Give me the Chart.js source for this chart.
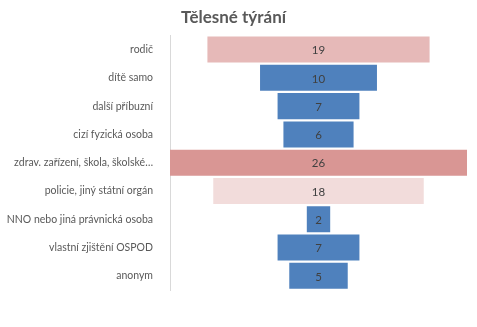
<!DOCTYPE html>
<html>
<head>
<meta charset="utf-8">
<script src="https://cdn.jsdelivr.net/npm/chart.js@4"></script>
<style>
  html, body { margin: 0; padding: 0; background: #fff; }
  #wrap { width: 477px; height: 327px; }
</style>
</head>
<body>
<div id="wrap"><canvas id="funnel"></canvas></div>
<script>
// data
const categories = ['rodič', 'dítě samo', 'další příbuzní', 'cizí fyzická osoba',
    'zdrav. zařízení, škola, školské…', 'policie, jiný státní orgán',
    'NNO nebo jiná právnická osoba', 'vlastní zjištění OSPOD', 'anonym'];
const values = [19, 10, 7, 6, 26, 18, 2, 7, 5];
const barColors = ['#E6B9B8', '#4F81BD', '#4F81BD', '#4F81BD', '#D99694',
    '#F2DCDB', '#4F81BD', '#4F81BD', '#4F81BD'];

// funnel: each bar is centred on zero
const ranges = values.map(v => [-v / 2, v / 2]);

const valueLabels = {
    id: 'valueLabels',
    afterDatasetsDraw(chart) {
        const ctx = chart.ctx;
        const meta = chart.getDatasetMeta(0);
        ctx.save();
        ctx.font = '11.5px Lato';
        ctx.fillStyle = '#404040';
        ctx.textAlign = 'center';
        ctx.textBaseline = 'middle';
        meta.data.forEach((bar, i) => {
            const x = (bar.base + bar.x) / 2;
            ctx.fillText(values[i], x, bar.y + 1);
        });
        ctx.restore();
    }
};

new Chart(document.getElementById('funnel'), {
    type: 'bar',
    data: {
        labels: categories,
        datasets: [{
            data: ranges,
            backgroundColor: barColors,
            categoryPercentage: 1,
            barPercentage: 0.92
        }]
    },
    options: {
        indexAxis: 'y',
        responsive: true,
        maintainAspectRatio: false,
        animation: false,
        layout: { padding: { left: 0, right: 10, top: 0, bottom: 37 } },
        plugins: {
            legend: { display: false },
            tooltip: { enabled: false },
            title: {
                display: true,
                text: 'Tělesné týrání',
                color: '#595959',
                font: { family: 'Lato', size: 17, weight: 'bold' },
                padding: { top: 7, bottom: 8 }
            }
        },
        scales: {
            x: {
                display: false,
                min: -12.7,
                max: 12.7
            },
            y: {
                afterFit(scale) { scale.width = 170; },
                grid: { display: false },
                border: { display: true, color: '#D9D9D9' },
                ticks: {
                    color: '#595959',
                    padding: 9,
                    font: { family: 'Lato', size: 10.5 }
                }
            }
        }
    },
    plugins: [valueLabels]
});
</script>
</body>
</html>
